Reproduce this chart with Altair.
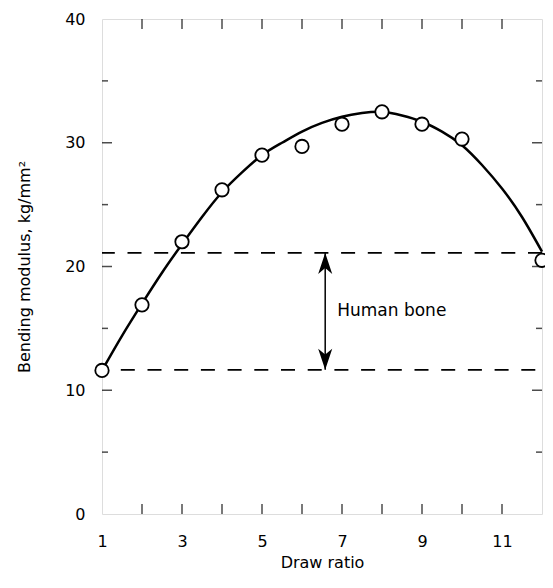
import altair as alt
import pandas as pd

# measured points
draw_ratio = [1, 2, 3, 4, 5, 6, 7, 8, 9, 10, 12]
modulus = [11.6, 16.9, 22.0, 26.2, 29.0, 29.7, 31.5, 32.5, 31.5, 30.3, 20.5]

# fitted curve
curve_x = [1, 1.5, 2, 2.5, 3, 3.5, 4, 4.5, 5, 5.5, 6, 6.5, 7, 7.5, 8, 8.5, 9, 9.5, 10, 10.5, 11, 11.5, 12]
curve_y = [11.6, 14.4, 17.0, 19.5, 21.8, 24.0, 26.0, 27.6, 29.0, 30.0, 30.9, 31.6, 32.1, 32.4, 32.5, 32.2, 31.7, 30.9, 29.8, 28.2, 26.3, 24.0, 21.2]

# human bone range
bone_upper = [21.1]
bone_lower = [11.65]
arrow_x = [6.58]
label_x = [6.88]
label_y = [16.4]
label_text = ["Human bone"]

# axes
x_label_values = [1, 3, 5, 7, 9, 11]
x_tick_values = [2, 3, 4, 5, 6, 7, 8, 9, 10, 11]
y_label_values = [0, 10, 20, 30, 40]
y_major_ticks = [10, 20, 30]
y_minor_ticks = [5, 15, 25, 35]

FONT = "DejaVu Sans"
xscale = alt.Scale(domain=[1, 12], nice=False, zero=False)
yscale = alt.Scale(domain=[0, 40], nice=False)
xtitle = "Draw  ratio"
ytitle = "Bending  modulus,   kg/mm\u00b2"

xaxis = alt.Axis(values=x_label_values, ticks=False, domain=False, grid=False,
                 labelPadding=19, labelFontSize=16, labelColor="black", labelFlush=False,
                 labelFont=FONT, titleFont=FONT, titleFontSize=16, titleFontWeight="normal",
                 titleColor="black", titlePadding=5, format="d")
yaxis = alt.Axis(values=y_label_values, ticks=False, domain=False, grid=False,
                 labelPadding=17, labelFontSize=16, labelColor="black", labelFlush=False,
                 labelFont=FONT, titleFont=FONT, titleFontSize=16, titleFontWeight="normal",
                 titleColor="black", titlePadding=32, format="d")


def X(field=None, datum=None):
    if field is not None:
        return alt.X(f"{field}:Q", scale=xscale, axis=xaxis, title=xtitle)
    return alt.X(datum=datum, scale=xscale, axis=xaxis, title=xtitle)


def Y(field=None, datum=None):
    if field is not None:
        return alt.Y(f"{field}:Q", scale=yscale, axis=yaxis, title=ytitle)
    return alt.Y(datum=datum, scale=yscale, axis=yaxis, title=ytitle)


pts = pd.DataFrame({"x": draw_ratio, "y": modulus})
crv = pd.DataFrame({"x": curve_x, "y": curve_y})
up = pd.DataFrame({"y": bone_upper})
lo = pd.DataFrame({"y": bone_lower})
arr = pd.DataFrame({"x": arrow_x, "y": bone_upper, "y2": bone_lower})
lab = pd.DataFrame({"x": label_x, "y": label_y, "t": label_text})
xt = pd.DataFrame({"x": x_tick_values})
ymj = pd.DataFrame({"y": y_major_ticks})
ymn = pd.DataFrame({"y": y_minor_ticks})

upper_line = alt.Chart(up).mark_rule(color="black", strokeWidth=1.8, strokeDash=[14, 12.7]).encode(
    y=Y("y"))
lower_line = alt.Chart(lo).mark_rule(color="black", strokeWidth=1.8, strokeDash=[14, 12.7],
                                     strokeDashOffset=20).encode(y=Y("y"))

shaft = alt.Chart(arr).mark_rule(color="black", strokeWidth=1.5).encode(
    x=X("x"), y=Y("y"), y2="y2:Q")
head_up = alt.Chart(arr).mark_point(
    shape="M0,-1 L-0.67,1 L0,0.45 L0.67,1 Z", size=441, filled=True, color="black",
    opacity=1, yOffset=10.5).encode(x=X("x"), y=Y("y"))
head_dn = alt.Chart(arr).mark_point(
    shape="M0,1 L-0.67,-1 L0,-0.45 L0.67,-1 Z", size=441, filled=True, color="black",
    opacity=1, yOffset=-10.5).encode(x=X("x"), y=Y("y2"))
label = alt.Chart(lab).mark_text(align="left", baseline="middle", fontSize=17, font=FONT,
                                 color="black").encode(x=X("x"), y=Y("y"), text="t:N")

curve = alt.Chart(crv).mark_line(color="black", strokeWidth=2.5, interpolate="natural").encode(
    x=X("x"), y=Y("y"))
circles = alt.Chart(pts).mark_point(shape="circle", size=180, filled=True, fill="white",
                                    stroke="black", strokeWidth=1.8, opacity=1,
                                    fillOpacity=1).encode(x=X("x"), y=Y("y"))

tick_b = alt.Chart(xt).mark_tick(orient="vertical", size=10, thickness=1.5, color="black",
                                 yOffset=-5).encode(x=X("x"), y=Y(datum=0))
tick_t = alt.Chart(xt).mark_tick(orient="vertical", size=10, thickness=1.5, color="black",
                                 yOffset=5).encode(x=X("x"), y=Y(datum=40))
tick_lmj = alt.Chart(ymj).mark_tick(orient="horizontal", size=10, thickness=1.5, color="black",
                                    xOffset=5).encode(x=X(datum=1), y=Y("y"))
tick_lmn = alt.Chart(ymn).mark_tick(orient="horizontal", size=6, thickness=1.5, color="black",
                                    xOffset=3).encode(x=X(datum=1), y=Y("y"))
tick_rmj = alt.Chart(ymj).mark_tick(orient="horizontal", size=10, thickness=1.5, color="black",
                                    xOffset=-5).encode(x=X(datum=12), y=Y("y"))
tick_rmn = alt.Chart(ymn).mark_tick(orient="horizontal", size=6, thickness=1.5, color="black",
                                    xOffset=-3).encode(x=X(datum=12), y=Y("y"))

chart = alt.layer(
    tick_b, tick_t, tick_lmj, tick_lmn, tick_rmj, tick_rmn,
    upper_line, lower_line, shaft, head_up, head_dn, label, curve, circles
).properties(
    width=440, height=495,
    autosize=alt.AutoSizeParams(type="none"),
    padding={"left": 94, "top": 11, "right": 3, "bottom": 60},
).configure_view(stroke="black", strokeWidth=2).configure(font=FONT)

chart.save("out.html", embed_options={"renderer": "svg", "actions": False})
